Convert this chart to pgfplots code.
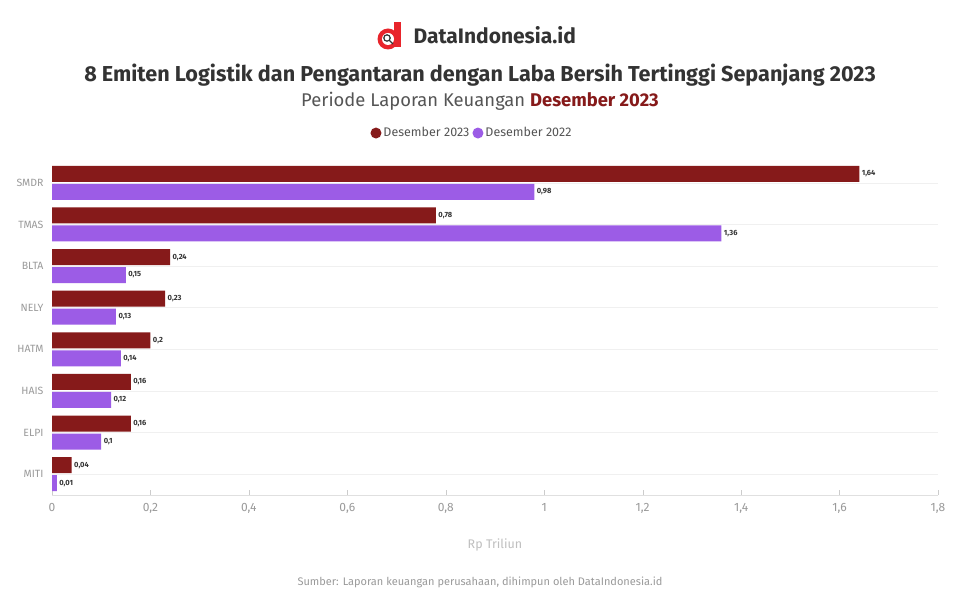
\documentclass[border=0pt]{standalone}
\usepackage{pgfplots}
\pgfplotsset{compat=1.18}
\usepackage{fontspec}
\setmainfont{Fira Sans}
\definecolor{bar23}{HTML}{861A1A}
\definecolor{bar22}{HTML}{9C5CE6}
\definecolor{dot23}{HTML}{750000}
\definecolor{txt}{HTML}{333333}
\definecolor{sub}{HTML}{555555}
\definecolor{lite}{HTML}{9A9A9A}
\definecolor{logored}{HTML}{E8242B}
\begin{document}
\begin{tikzpicture}[x=1pt,y=1pt]
\path[fill=white] (0,0) rectangle (960,600);
% logo
\fill[logored] (394,578) rectangle (401,553);
\fill[logored] (388,561) circle (10.5);
\fill[white] (388,561) circle (6);
\draw[txt,line width=1.2pt] (387,562) circle (3.2) (389.5,559.5) -- (393,556);
\node[anchor=west,text=txt,font=\fontsize{21}{24}\selectfont\bfseries] at (410,565) {DataIndonesia.id};
% titles
\node[text=txt,font=\fontsize{21.6}{25}\selectfont\bfseries] at (480,525) {8 Emiten Logistik dan Pengantaran dengan Laba Bersih Tertinggi Sepanjang 2023};
\node[text=sub,font=\fontsize{18.4}{21}\selectfont] at (480,499) {Periode Laporan Keuangan \textcolor{bar23}{\bfseries Desember 2023}};
\node[text=lite,font=\fontsize{11}{13}\selectfont] at (480,18) {Sumber: Laporan keuangan perusahaan, dihimpun oleh DataIndonesia.id};
\begin{axis}[
    at={(52pt,105pt)}, anchor=south west,
    scale only axis, width=886pt, height=333pt,
    xmin=0, xmax=1.8, ymin=-0.5, ymax=7.5,
    y dir=reverse,
    xbar, bar width=16pt,
    axis x line*=bottom, axis y line*=left,
    x axis line style={draw=black!12},
    y axis line style={draw=none},
    xtick={0,0.2,...,1.8},
    xticklabels={0,{0,2},{0,4},{0,6},{0,8},1,{1,2},{1,4},{1,6},{1,8}},
    xtick style={draw=black!20}, major tick length=5pt,
    xticklabel style={text=lite,font=\fontsize{12}{14}\selectfont,yshift=-5pt},
    ytick={0,...,7},
    yticklabels={SMDR,TMAS,BLTA,NELY,HATM,HAIS,ELPI,MITI},
    ymajorgrids, grid style={draw=black!6},
    ytick style={draw=none},
    yticklabel style={text=lite,font=\fontsize{10.5}{12}\selectfont},
    xlabel={Rp Triliun},
    xlabel style={text=black!25,font=\fontsize{12.5}{14}\selectfont,yshift=-18pt},
    nodes near coords, point meta=explicit symbolic,
    every node near coord/.append style={text=txt,font=\fontsize{7.5}{8}\selectfont\bfseries,anchor=west,xshift=-1pt},
    legend columns=2,
    legend style={at={(0.474,1.087)},anchor=center,draw=none,fill=none,
        font=\fontsize{12.5}{14}\selectfont,text=sub,
        /tikz/every even column/.append style={column sep=1pt}},
    legend image code/.code={\fill[#1] (5pt,0pt) circle (5.5pt);},
]
\addplot[fill=bar23,draw=none,bar shift=0pt] coordinates {
    (1.64,-0.216) [1,64] (0.78,0.784) [0,78] (0.24,1.784) [0,24]
    (0.23,2.784) [0,23] (0.20,3.784) [0,2] (0.16,4.784) [0,16]
    (0.16,5.784) [0,16] (0.04,6.784) [0,04]
};
\addplot[fill=bar22,draw=none,bar shift=0pt] coordinates {
    (0.98,0.216) [0,98] (1.36,1.216) [1,36] (0.15,2.216) [0,15]
    (0.13,3.216) [0,13] (0.14,4.216) [0,14] (0.12,5.216) [0,12]
    (0.10,6.216) [0,1] (0.01,7.216) [0,01]
};
\legend{Desember 2023,Desember 2022}
\end{axis}
\end{tikzpicture}
\end{document}
